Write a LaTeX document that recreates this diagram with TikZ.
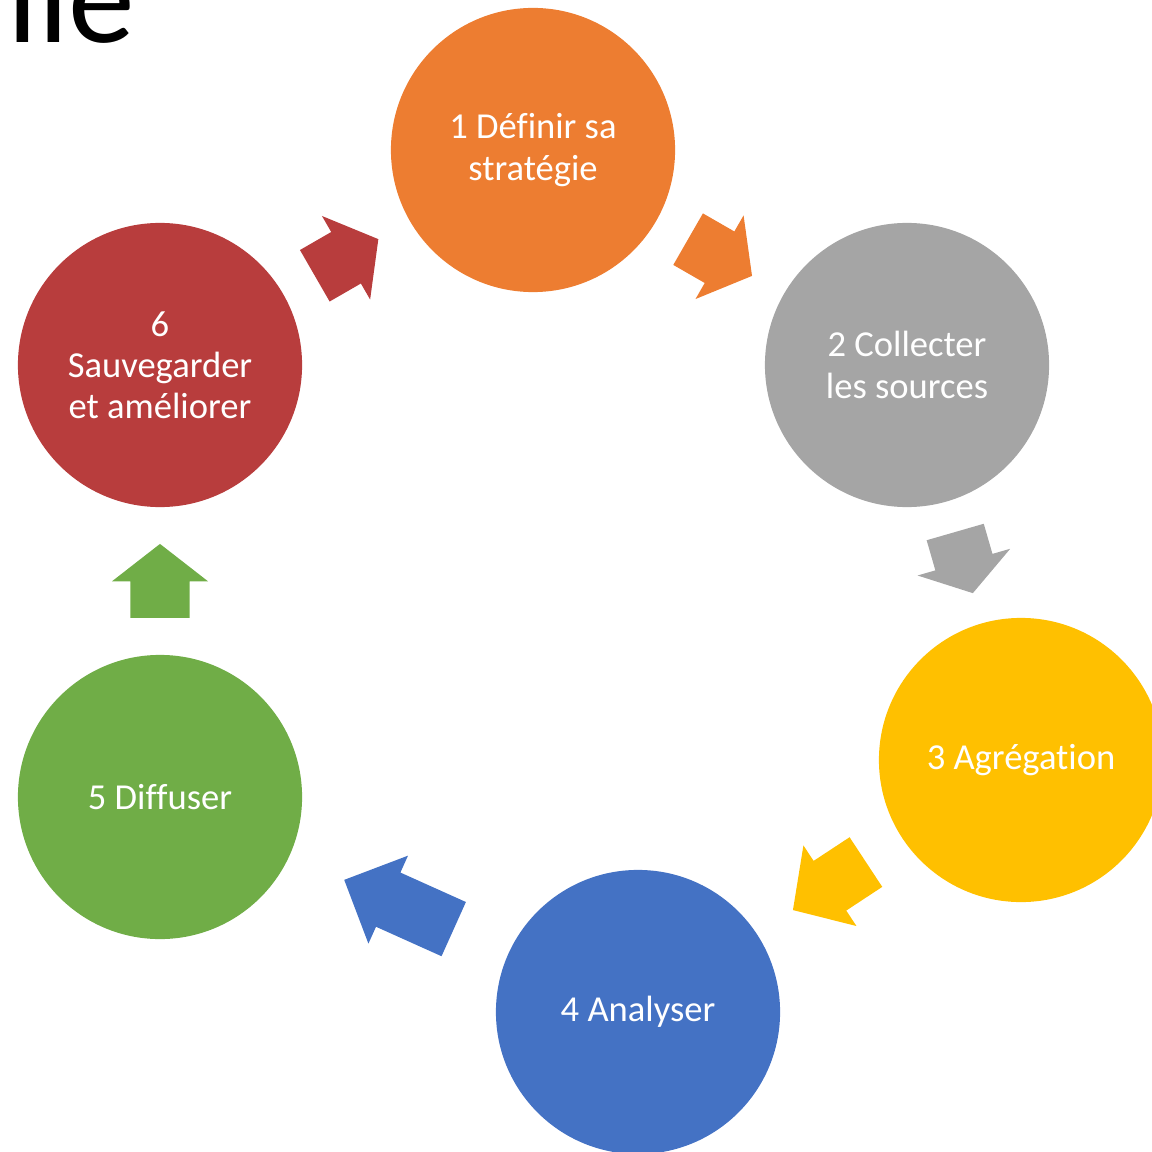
\documentclass[tikz,border=0pt]{standalone}
\usepackage{fontspec}
\setmainfont{Carlito}[Ligatures=NoCommon]
\usetikzlibrary{shapes.arrows}
\definecolor{orangestage}{HTML}{ED7D31}
\definecolor{graystage}{HTML}{A5A5A5}
\definecolor{goldstage}{HTML}{FFC000}
\definecolor{bluestage}{HTML}{4472C4}
\definecolor{greenstage}{HTML}{70AD47}
\definecolor{redstage}{HTML}{B83D3D}

\begin{document}
\begin{tikzpicture}[x=0.01cm,y=-0.01cm,
    stage/.style={circle,minimum size=2.84cm,inner sep=0pt,outer sep=0pt,
      align=center,text=white,font=\fontsize{10.4pt}{11.7pt}\selectfont},
    flow/.style n args={3}{single arrow,fill=#1,draw=none,minimum height=#2,
      single arrow tip angle=#3,single arrow head extend=0.185cm,
      single arrow head indent=0pt,inner xsep=0pt,inner ysep=0.29cm,
      outer sep=0pt,pos=0.25,anchor=tail,sloped,allow upside down}]
   \useasboundingbox (0,0) rectangle (1151,1152);
   \node[anchor=base east,font=\fontsize{38pt}{38pt}\selectfont] (title) at (148,43) {ille};
   \node[stage,fill=orangestage] (s1) at (533,150) {1 Définir sa\\stratégie};
   \node[stage,fill=graystage]   (s2) at (907,365) {2 Collecter\\les sources};
   \node[stage,fill=goldstage]   (s3) at (1021,760) {3 Agrégation};
   \node[stage,fill=bluestage]   (s4) at (638,1012) {4 Analyser};
   \node[stage,fill=greenstage]  (s5) at (160,797) {5 Diffuser};
   \node[stage,fill=redstage]    (s6) at (160,365) {6\\Sauvegarder\\et améliorer};
   \path (s1) -- node[flow={orangestage}{0.737cm}{104.3}] (f12) {} (s2)
         (s2) -- node[flow={graystage}{0.636cm}{112.4}]   (f23) {} (s3)
         (s3) -- node[flow={goldstage}{0.873cm}{94.9}]    (f34) {} (s4)
         (s4) -- node[flow={bluestage}{1.20cm}{90}]       (f45) {} (s5)
         (s5) -- node[flow={greenstage}{0.74cm}{104.2}]   (f56) {} (s6)
         (s6) -- node[flow={redstage}{0.733cm}{104.6}]    (f61) {} (s1);
\end{tikzpicture}
\end{document}
